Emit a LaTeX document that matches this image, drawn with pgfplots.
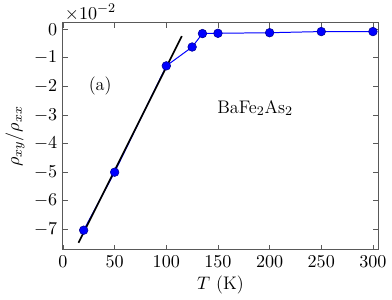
\documentclass[border=0pt]{standalone}
\usepackage{pgfplots}
\pgfplotsset{compat=1.18}
\begin{document}
\begin{tikzpicture}
\begin{axis}[
  scale only axis,
  width=190bp, height=137bp,
  xmin=0, xmax=305, ymin=-7.72, ymax=0.23,
  xtick={0,50,100,150,200,250,300},
  ytick={-7,-6,-5,-4,-3,-2,-1,0},
  tick align=inside,
  tick pos=both,
  major tick length=3bp,
  axis line style={gray!70!black, line width=0.6bp},
  every tick/.style={gray!70!black, line width=0.5bp},
  scaled ticks=false,
  font=\fontsize{11}{13}\selectfont,
  xlabel={$T$ (K)},
  ylabel={$\rho_{xy}/\rho_{xx}$},
  xlabel style={yshift=2bp},
  ylabel style={yshift=-1bp},
  clip=false,
]
\addplot[blue, line width=0.6bp, mark=*, mark size=2.6bp, mark options={fill=blue, draw=blue!60!black, line width=0.35bp}]
coordinates {(20,-7.03) (50,-5.0) (100,-1.28) (125,-0.62) (135,-0.15) (150,-0.14) (200,-0.12) (250,-0.08) (300,-0.08)};
\addplot[black, line width=1bp, no marks] coordinates {(15,-7.47) (115,-0.24)};
\node[font=\fontsize{11}{13}\selectfont] at (axis cs:36,-1.97) {(a)};
\node[font=\fontsize{11}{13}\selectfont] at (axis cs:186,-2.75) {BaFe$_2$As$_2$};
\node[anchor=south west, inner xsep=1bp, inner ysep=2.5bp, yshift=-1.5bp, font=\fontsize{11}{13}\selectfont] at (rel axis cs:0,1) {$\times10^{-2}$};
\end{axis}
\end{tikzpicture}
\end{document}
